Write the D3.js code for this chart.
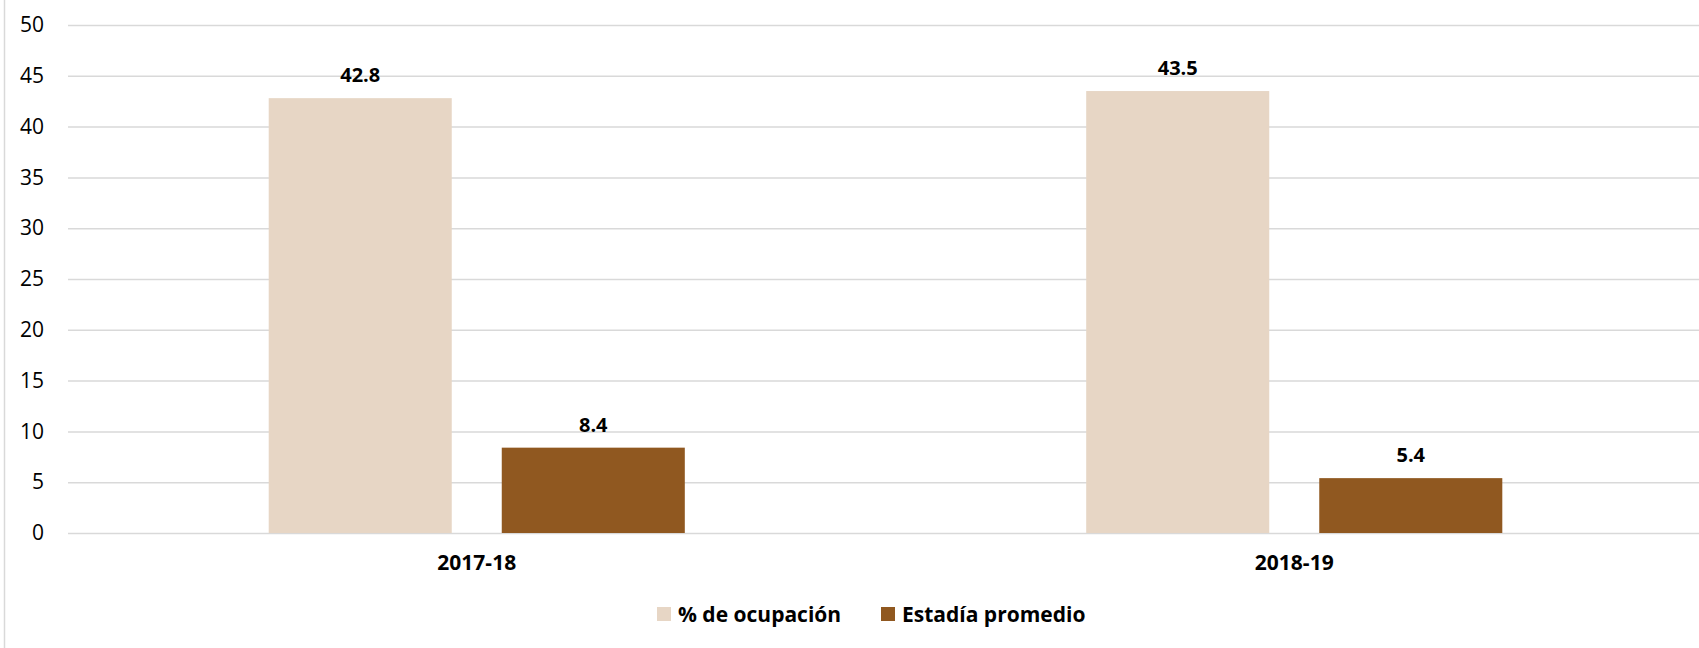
<!DOCTYPE html>
<html>
<head>
<meta charset="utf-8">
<script src="https://cdn.jsdelivr.net/npm/d3@7"></script>
<style>
  html, body { margin: 0; padding: 0; background: #fff; }
  svg { display: block; font-family: "Open Sans", "Noto Sans", sans-serif; }
</style>
</head>
<body>
<svg id="chart" width="1699" height="648"></svg>
<script>
const categories = ["2017-18", "2018-19"];
const seriesNames = ["% de ocupación", "Estadía promedio"];
const ocupacion = [42.8, 43.5];
const estadia = [8.4, 5.4];
const yTicks = [0, 5, 10, 15, 20, 25, 30, 35, 40, 45, 50];
const colors = ["#E7D6C5", "#905820"];

const W = 1699, H = 648;
const svg = d3.select("#chart");

// left border
svg.append("line").attr("x1", 4.5).attr("x2", 4.5).attr("y1", 0).attr("y2", H)
  .attr("stroke", "#D9D9D9").attr("stroke-width", 1.5);

const y = d3.scaleLinear().domain([0, 50]).range([533, 25]);
const x0 = d3.scaleBand().domain(categories).range([68, 1703]).paddingInner(0).paddingOuter(0);
const x1 = d3.scaleBand().domain(seriesNames).range([200.7, 616.8])
  .paddingOuter(0).paddingInner(0.2146);

// gridlines
svg.append("g").selectAll("line").data(yTicks).join("line")
  .attr("x1", 68).attr("x2", W).attr("y1", d => y(d) + 0.5).attr("y2", d => y(d) + 0.5)
  .attr("stroke", "#D9D9D9").attr("stroke-width", 1.5);

// y axis labels
const yAxis = d3.axisLeft(y).tickValues(yTicks).tickSize(0).tickPadding(24).tickFormat(d3.format("d"));
const gy = svg.append("g").attr("transform", "translate(68,0)").call(yAxis);
gy.select(".domain").remove();
gy.selectAll("text").attr("font-size", 21).attr("fill", "#000").attr("font-family", "'Open Sans', sans-serif");

const rows = categories.map((c, i) => ({ cat: c, vals: [
  { name: seriesNames[0], v: ocupacion[i], c: colors[0] },
  { name: seriesNames[1], v: estadia[i], c: colors[1] }
]}));

const groups = svg.append("g").selectAll("g").data(rows).join("g")
  .attr("transform", d => `translate(${x0(d.cat)},0)`);

groups.selectAll("rect").data(d => d.vals).join("rect")
  .attr("x", d => x1(d.name)).attr("width", x1.bandwidth())
  .attr("y", d => y(d.v)).attr("height", d => y(0) - y(d.v))
  .attr("fill", d => d.c);

groups.selectAll("text.val").data(d => d.vals).join("text").attr("class", "val")
  .attr("x", d => x1(d.name) + x1.bandwidth() / 2)
  .attr("y", d => y(d.v) - 16)
  .attr("text-anchor", "middle").attr("font-size", 20).attr("font-weight", "bold")
  .attr("fill", "#000").text(d => d.v.toFixed(1));

// x axis labels
svg.append("g").selectAll("text").data(categories).join("text")
  .attr("x", d => x0(d) + x0.bandwidth() / 2).attr("y", 570)
  .attr("text-anchor", "middle").attr("font-size", 21).attr("font-weight", "bold")
  .attr("fill", "#000").text(d => d);

// legend
const legendX = [657, 881];
const leg = svg.append("g").selectAll("g").data(seriesNames).join("g")
  .attr("transform", (d, i) => `translate(${legendX[i]},607)`);
leg.append("rect").attr("width", 14).attr("height", 14).attr("fill", (d, i) => colors[i]);
leg.append("text").attr("x", 21).attr("y", 15).attr("font-size", 21).attr("font-weight", "bold")
  .attr("fill", "#000").text(d => d);
</script>
</body>
</html>
